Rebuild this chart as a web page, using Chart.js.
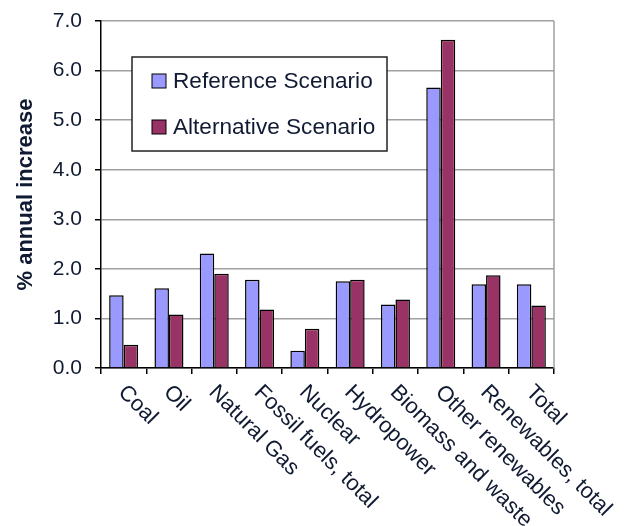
<!DOCTYPE html>
<html>
<head>
<meta charset="utf-8">
<script src="https://cdn.jsdelivr.net/npm/chart.js@4/dist/chart.umd.min.js"></script>
<style>
  html, body { margin:0; padding:0; background:#fff; }
  #wrap { width:626px; height:526px; }
</style>
</head>
<body>
<div id="wrap"><canvas id="c" width="626" height="526"></canvas></div>
<script>
const categories = ["Coal","Oil","Natural Gas","Fossil fuels, total","Nuclear","Hydropower",
  "Biomass and waste","Other renewables","Renewables, total","Total"];
const referenceScenario   = [1.47,1.61,2.31,1.78,0.35,1.75,1.28,5.66,1.69,1.69];
const alternativeScenario = [0.47,1.08,1.90,1.18,0.79,1.78,1.38,6.62,1.87,1.26];
const yTicks = [0,1,2,3,4,5,6,7];

const FONT = "'Liberation Sans', Arial, sans-serif";
const TXT = "#111a33";

// -- etichette asse x inclinate verso il basso (Chart.js le ruota al contrario)
const slantLabels = {
  id: "slantLabels",
  afterDraw(chart) {
    const ctx = chart.ctx, xs = chart.scales.x, b = chart.chartArea.bottom;
    ctx.save();
    ctx.fillStyle = TXT;
    ctx.font = "22px " + FONT;
    ctx.textAlign = "left";
    ctx.textBaseline = "middle";
    categories.forEach((lab, i) => {
      ctx.save();
      ctx.translate(xs.getPixelForTick(i) - 2, b + 21);
      ctx.rotate(Math.PI / 4);
      ctx.fillText(lab, 0, 0);
      ctx.restore();
    });
    ctx.restore();
  }
};

// -- bordo destro grigio dell'area del grafico
const rightEdge = {
  id: "rightEdge",
  beforeDatasetsDraw(chart) {
    const {ctx, chartArea:a} = chart;
    ctx.save();
    ctx.strokeStyle = "#a0a0a0";
    ctx.lineWidth = 1.5;
    ctx.beginPath();
    ctx.moveTo(a.right, a.top);
    ctx.lineTo(a.right, a.bottom);
    ctx.stroke();
    ctx.restore();
  }
};

// -- legenda a riquadro dentro l'area
const boxLegend = {
  id: "boxLegend",
  afterDraw(chart) {
    const ctx = chart.ctx;
    const x0 = 132, y0 = 57, w = 255, h = 94;
    ctx.save();
    ctx.fillStyle = "#fff";
    ctx.fillRect(x0, y0, w, h);
    ctx.strokeStyle = "#222";
    ctx.lineWidth = 1.5;
    ctx.strokeRect(x0, y0, w, h);
    ctx.font = "22.6px " + FONT;
    ctx.textBaseline = "middle";
    chart.data.datasets.forEach((ds, i) => {
      const cy = y0 + 24 + i * 46;
      ctx.fillStyle = ds.backgroundColor;
      ctx.fillRect(x0 + 20, cy - 7, 14, 14);
      ctx.strokeStyle = "#000";
      ctx.lineWidth = 1;
      ctx.strokeRect(x0 + 20, cy - 7, 14, 14);
      ctx.fillStyle = TXT;
      ctx.fillText(ds.label, x0 + 41, cy + 1);
    });
    ctx.restore();
  }
};

new Chart(document.getElementById("c"), {
  type: "bar",
  data: {
    labels: categories,
    datasets: [
      { label: "Reference Scenario", data: referenceScenario, backgroundColor: "#9999ff",
        borderColor: "#000", borderWidth: 1.5 },
      { label: "Alternative Scenario", data: alternativeScenario, backgroundColor: "#993366",
        borderColor: "#000", borderWidth: 1.5 }
    ]
  },
  options: {
    responsive: false,
    animation: false,
    layout: { padding: { top: 21, right: 72, left: 0, bottom: 0 } },
    datasets: { bar: { categoryPercentage: 0.64, barPercentage: 1.0 } },
    plugins: { legend: { display: false }, tooltip: { enabled: false } },
    scales: {
      x: {
        offset: true,
        ticks: { display: false },
        grid: { display: true, drawOnChartArea: false, drawTicks: true, tickLength: 6,
                color: "#000", lineWidth: 1.5, offset: true },
        border: { color: "#000", width: 1.5 },
        afterFit(s) { s.height = 158; }
      },
      y: {
        min: 0, max: 7,
        afterBuildTicks(s) { s.ticks = yTicks.map(v => ({ value: v })); },
        ticks: { color: TXT, font: { family: FONT, size: 21 }, padding: 13,
                 callback: v => Number(v).toFixed(1) },
        grid: { color: "#a0a0a0", lineWidth: 1.5, tickLength: 6, tickColor: "#000" },
        border: { color: "#000", width: 1.5 },
        title: { display: true, text: "% annual increase", color: TXT,
                 font: { family: FONT, size: 22, weight: "bold" }, padding: { top: 13, bottom: 0 } },
        afterFit(s) { s.width = 101; s.paddingTop = 0; s.paddingBottom = 0; }
      }
    }
  },
  plugins: [rightEdge, slantLabels, boxLegend]
});
</script>
</body>
</html>
